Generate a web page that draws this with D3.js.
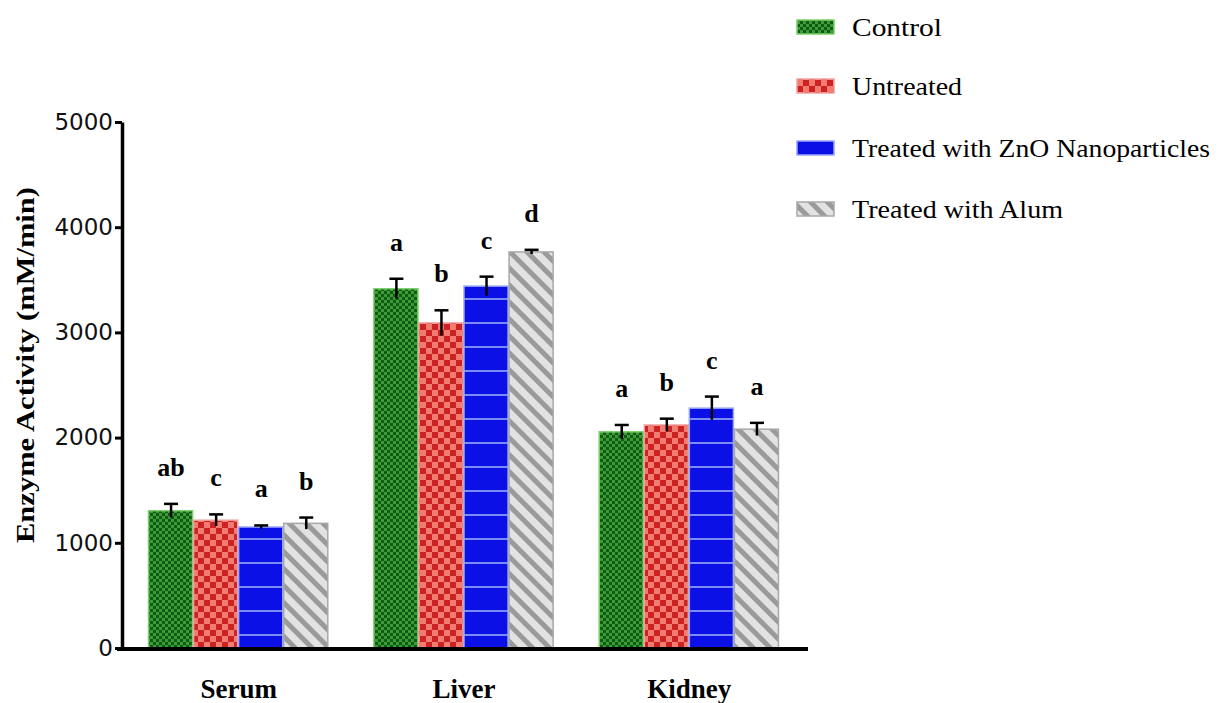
<!DOCTYPE html>
<html lang="en">
<head>
  <meta charset="UTF-8">
  <script src="https://d3js.org/d3.v7.min.js"></script>
  <style>
    body { margin: 0; background: #fff; }
    svg { display: block; }
  </style>
</head>
<body>
<div id="container"></div>
<script>
// values
const tissues = ["Serum", "Liver", "Kidney"];
const groups = ["Control", "Untreated", "Treated with ZnO Nanoparticles", "Treated with Alum"];
const controlVals = [1305, 3415, 2055];
const untreatedVals = [1215, 3090, 2120];
const znoVals = [1150, 3440, 2280];
const alumVals = [1185, 3765, 2080];
const controlErr = [65, 95, 65];
const untreatedErr = [55, 120, 60];
const znoErr = [15, 90, 110];
const alumErr = [55, 20, 60];
const controlLetters = ["ab", "a", "a"];
const untreatedLetters = ["c", "b", "b"];
const znoLetters = ["a", "c", "c"];
const alumLetters = ["b", "d", "a"];
const yTicks = [0, 1000, 2000, 3000, 4000, 5000];

const w = 1224, h = 703;
const svg = d3.select("#container").append("svg")
  .attr("width", w).attr("height", h);

// fill patterns, one per group
const defs = svg.append("defs");
const pGreen = defs.append("pattern").attr("id", "pGreen")
  .attr("patternUnits", "userSpaceOnUse").attr("width", 6).attr("height", 6);
pGreen.append("rect").attr("width", 6).attr("height", 6).attr("fill", "#0d5c12");
pGreen.append("rect").attr("width", 3).attr("height", 3).attr("fill", "#3f9a3a");
pGreen.append("rect").attr("x", 3).attr("y", 3).attr("width", 3).attr("height", 3).attr("fill", "#3f9a3a");

const pRed = defs.append("pattern").attr("id", "pRed")
  .attr("patternUnits", "userSpaceOnUse").attr("width", 12).attr("height", 12);
pRed.append("rect").attr("width", 12).attr("height", 12).attr("fill", "#f27b72");
pRed.append("rect").attr("width", 6).attr("height", 6).attr("fill", "#cc2222");
pRed.append("rect").attr("x", 6).attr("y", 6).attr("width", 6).attr("height", 6).attr("fill", "#cc2222");

const pBlue = defs.append("pattern").attr("id", "pBlue")
  .attr("patternUnits", "userSpaceOnUse").attr("width", 10).attr("height", 24);
pBlue.append("rect").attr("width", 10).attr("height", 24).attr("fill", "#0a10e6");
pBlue.append("rect").attr("y", 10).attr("width", 10).attr("height", 2).attr("fill", "#7d8cf5");

const pGray = defs.append("pattern").attr("id", "pGray")
  .attr("patternUnits", "userSpaceOnUse").attr("width", 12).attr("height", 12)
  .attr("patternTransform", "rotate(-45)");
pGray.append("rect").attr("width", 12).attr("height", 12).attr("fill", "#e2e2e2");
pGray.append("rect").attr("width", 5).attr("height", 12).attr("fill", "#9a9a9a");

const fills = ["url(#pGreen)", "url(#pRed)", "url(#pBlue)", "url(#pGray)"];
const strokes = ["#7ccf6a", "#f2a0a0", "#9aa6f5", "#a8a8a8"];

const vals = [controlVals, untreatedVals, znoVals, alumVals];
const errs = [controlErr, untreatedErr, znoErr, alumErr];
const letters = [controlLetters, untreatedLetters, znoLetters, alumLetters];

const bars = [];
groups.forEach((g, gi) => {
  tissues.forEach((t, ti) => {
    bars.push({ tissue: t, group: g, gi: gi, v: vals[gi][ti], e: errs[gi][ti], l: letters[gi][ti] });
  });
});

// scales
const y = d3.scaleLinear().domain([0, 5000]).range([648, 122]);
const x0 = d3.scaleBand().domain(tissues).range([126, 802])
  .paddingInner(0.2).paddingOuter(0.1);
const x1 = d3.scaleBand().domain(groups).range([0, x0.bandwidth()]);

// bars
svg.append("g").selectAll("rect")
  .data(bars).enter().append("rect")
  .attr("x", d => x0(d.tissue) + x1(d.group))
  .attr("y", d => y(d.v))
  .attr("width", x1.bandwidth() - 1)
  .attr("height", d => y(0) - y(d.v))
  .attr("fill", d => fills[d.gi])
  .attr("stroke", d => strokes[d.gi])
  .attr("stroke-width", 1.5);

// error bars
const eb = svg.append("g").attr("stroke", "#000").attr("stroke-width", 2.5);
eb.selectAll("line.v").data(bars).enter().append("line")
  .attr("class", "v")
  .attr("x1", d => x0(d.tissue) + x1(d.group) + x1.bandwidth() / 2)
  .attr("x2", d => x0(d.tissue) + x1(d.group) + x1.bandwidth() / 2)
  .attr("y1", d => y(d.v - d.e))
  .attr("y2", d => y(d.v + d.e));
eb.selectAll("line.c").data(bars).enter().append("line")
  .attr("class", "c")
  .attr("x1", d => x0(d.tissue) + x1(d.group) + x1.bandwidth() / 2 - 7)
  .attr("x2", d => x0(d.tissue) + x1(d.group) + x1.bandwidth() / 2 + 7)
  .attr("y1", d => y(d.v + d.e))
  .attr("y2", d => y(d.v + d.e));

// significance letters
svg.append("g").selectAll("text")
  .data(bars).enter().append("text")
  .attr("x", d => x0(d.tissue) + x1(d.group) + x1.bandwidth() / 2)
  .attr("y", d => y(d.v + d.e) - 28)
  .attr("text-anchor", "middle")
  .style("font-family", "Liberation Serif, serif")
  .style("font-weight", "bold")
  .style("font-size", "26px")
  .text(d => d.l);

// y axis
const yAxis = svg.append("g")
  .attr("transform", "translate(122,0)")
  .call(d3.axisLeft(y).tickValues(yTicks).tickSize(7).tickSizeOuter(0).tickFormat(d3.format("d")));
yAxis.select(".domain").attr("stroke-width", 3.5);
yAxis.selectAll(".tick line").attr("stroke-width", 3);
yAxis.selectAll(".tick text")
  .attr("x", -9)
  .style("font-family", "DejaVu Sans, sans-serif")
  .style("font-size", "23px")
  .attr("fill", "#111");

// x axis line
svg.append("line")
  .attr("x1", 117).attr("x2", 808)
  .attr("y1", y(0) + 1).attr("y2", y(0) + 1)
  .attr("stroke", "#000").attr("stroke-width", 4);

// category labels
svg.append("g").selectAll("text")
  .data(tissues).enter().append("text")
  .attr("x", d => x0(d) + x0.bandwidth() / 2)
  .attr("y", 698)
  .attr("text-anchor", "middle")
  .style("font-family", "Liberation Serif, serif")
  .style("font-weight", "bold")
  .style("font-size", "27px")
  .text(d => d);

// y axis title
svg.append("text")
  .attr("transform", "translate(34,365) rotate(-90)")
  .attr("text-anchor", "middle")
  .attr("textLength", 356)
  .attr("lengthAdjust", "spacingAndGlyphs")
  .style("font-family", "Liberation Serif, serif")
  .style("font-weight", "bold")
  .style("font-size", "25px")
  .text("Enzyme Activity (mM/min)");

// legend
const legendY = [27, 86, 148, 209];
const legendW = [90, 110, 358, 211];
const leg = svg.append("g").selectAll("g")
  .data(groups).enter().append("g")
  .attr("transform", (d, i) => "translate(797," + legendY[i] + ")");
leg.append("rect")
  .attr("x", 0).attr("y", -7)
  .attr("width", 37).attr("height", 14)
  .attr("fill", (d, i) => fills[i])
  .attr("stroke", (d, i) => strokes[i])
  .attr("stroke-width", 1.5);
leg.append("text")
  .attr("x", 55).attr("y", 9)
  .attr("textLength", (d, i) => legendW[i])
  .attr("lengthAdjust", "spacingAndGlyphs")
  .style("font-family", "Liberation Serif, serif")
  .style("font-size", "26px")
  .text(d => d);
</script>
</body>
</html>
